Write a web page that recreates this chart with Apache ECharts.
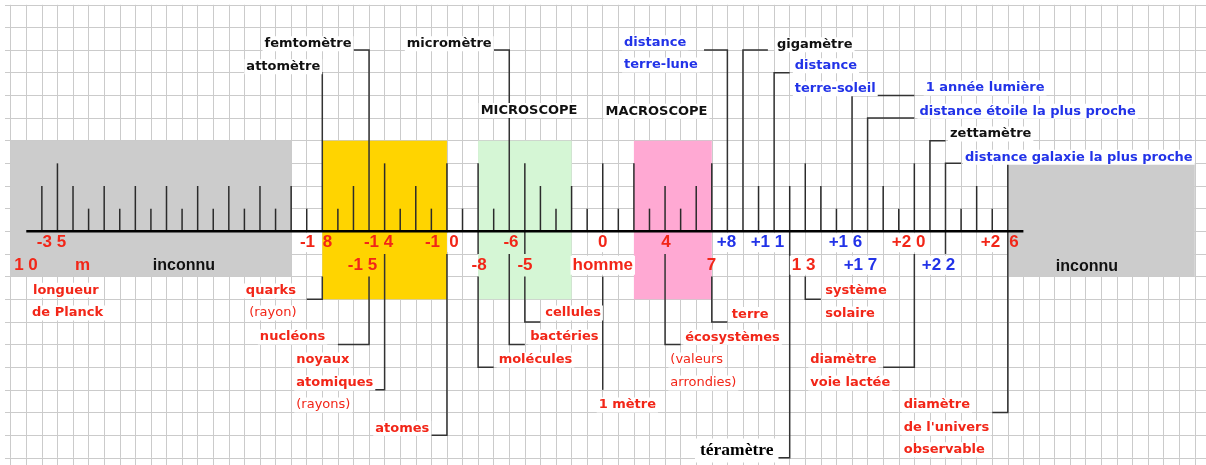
<!DOCTYPE html>
<html><head><meta charset="utf-8">
<script src="https://cdn.jsdelivr.net/npm/echarts@6/dist/echarts.min.js"></script>
<style>html,body{margin:0;padding:0;background:#fff}#c{width:1206px;height:465px}</style>
</head><body><div id="c"></div>
<script>
// ---------- DATA (x = power of ten in metres, y = rows above/below the axis) ----------
const tickExps   = [-36,-35,-34,-33,-32,-31,-30,-29,-28,-27,-26,-25,-24,-23,-22,-21,-20,-19,
                    -17,-16,-14,-13,-12,-11,-10,-9,-8,-7,-5,-4,-3,-2,-1,0,1,2,3,4,5,6,7,
                    10,12,13,14,15,18,19,20,23,24,25,26];
const tickLevels = [2,3,2,1,2,1,2,1,2,1,2,1,2,1,2,1,2,1,
                    1,2,3,1,2,1,3,1,3,1,3,2,1,2,1,3,1,3,1,2,1,2,3,
                    2,2,3,2,1,2,1,3,1,2,1,3];

const axisExtent = [[-37,0],[27,0]];

// zones: [from, to, bottom, top, kind]
const zones = [
  [-38,-20,-2,4,'unknown'],
  [26,38,-2,3,'unknown'],
  [-18,-10,-3,4,'nano'],
  [-8,-2,-3,4,'micro'],
  [2,7,-3,4,'macro']
];

// leader lines
const leaderPaths = [
  [[-18,0],[-18,7],[-19,7]],
  [[-15,0],[-15,8],[-16,8]],
  [[-6,0],[-6,8],[-7,8]],
  [[8,0],[8,8],[6.5,8]],
  [[9,0],[9,8],[10.6,8]],
  [[11,0],[11,7],[12,7]],
  [[16,0],[16,6],[20,6]],
  [[17,0],[17,5],[20,5]],
  [[21,0],[21,4],[22,4]],
  [[22,0],[22,3],[23,3]],
  [[-18,-2],[-18,-3],[-19,-3]],
  [[-15,-2],[-15,-5],[-17,-5]],
  [[-14,-1],[-14,-7],[-15,-7]],
  [[-10,-1],[-10,-9],[-11,-9]],
  [[-8,0],[-8,-1]],
  [[-8,-2],[-8,-6],[-7,-6]],
  [[-6,-1],[-6,-5],[-5,-5]],
  [[-5,0],[-5,-1]],
  [[-5,-2],[-5,-4],[-4,-4]],
  [[0,-2],[0,-7]],
  [[4,-1],[4,-5],[5,-5]],
  [[7,-2],[7,-4],[8,-4]],
  [[12,0],[12,-10],[11.25,-10]],
  [[13,-2],[13,-3],[14,-3]],
  [[20,-1],[20,-6],[18,-6]],
  [[22,0],[22,-1]],
  [[26,0],[26,-8],[25,-8]]
];

// texts: [text, x, y, anchor, kind]
const topTexts = [
  ['femtomètre',-16,8.28,'right','black'],
  ['attomètre',-18,7.27,'right','black'],
  ['micromètre',-7,8.28,'right','black'],
  ['MICROSCOPE',-4.73,5.33,'center','black'],
  ['MACROSCOPE',3.45,5.3,'center','black'],
  ['distance',1.24,8.33,'left','blue'],
  ['terre-lune',1.24,7.34,'left','blue'],
  ['gigamètre',11.05,8.24,'left','black'],
  ['distance',12.2,7.31,'left','blue'],
  ['terre-soleil',12.2,6.29,'left','blue'],
  ['1 année lumière',20.6,6.33,'left','blue'],
  ['distance étoile la plus proche',20.2,5.3,'left','blue'],
  ['zettamètre',22.16,4.3,'left','black'],
  ['distance galaxie la plus proche',23.12,3.27,'left','blue']
];
const scaleTexts = [
  ['-3 5',-35.38,-0.5,'center','numRedBox'],
  ['-1',-18.95,-0.5,'center','numRed'],
  ['8',-17.67,-0.5,'center','numRedBox'],
  ['-1 4',-14.39,-0.5,'center','numRedBox'],
  ['-1',-10.93,-0.5,'center','numRedBox'],
  ['0',-9.55,-0.5,'center','numRed'],
  ['-6',-5.89,-0.5,'center','numRedBox'],
  ['0',0,-0.5,'center','numRed'],
  ['4',4.06,-0.5,'center','numRedBox'],
  ['+8',7.94,-0.5,'center','numBlue'],
  ['+1 1',10.57,-0.5,'center','numBlue'],
  ['+1 6',15.58,-0.5,'center','numBlue'],
  ['+2 0',19.63,-0.5,'center','numRed'],
  ['+2',24.89,-0.5,'center','numRed'],
  ['6',26.4,-0.5,'center','numRedBox'],
  ['1 0',-37.02,-1.5,'center','numRedBox'],
  ['m',-33.39,-1.5,'center','numRedBox'],
  ['inconnu',-26.88,-1.5,'center','unknown'],
  ['-1 5',-15.42,-1.5,'center','numRedBox'],
  ['-8',-7.94,-1.5,'center','numRedBox'],
  ['-5',-4.99,-1.5,'center','numRedBox'],
  ['homme',0,-1.5,'center','numRed'],
  ['7',6.98,-1.5,'center','numRedBox'],
  ['1 3',12.89,-1.5,'center','numRed'],
  ['+1 7',16.54,-1.5,'center','numBlue'],
  ['+2 2',21.55,-1.5,'center','numBlue'],
  ['inconnu',31.08,-1.57,'center','unknown']
];
const bottomTexts = [
  ['longueur',-36.7,-2.6,'left','red'],
  ['de Planck',-36.76,-3.61,'left','red'],
  ['quarks',-19.56,-2.64,'right','red'],
  ['(rayon)',-22.82,-3.61,'left','redThin'],
  ['nucléons',-17.68,-4.67,'right','red'],
  ['noyaux',-19.8,-5.68,'left','red'],
  ['atomiques',-19.8,-6.7,'left','red'],
  ['(rayons)',-19.8,-7.67,'left','redThin'],
  ['atomes',-14.73,-8.69,'left','red'],
  ['cellules',-3.82,-3.61,'left','red'],
  ['bactéries',-4.78,-4.67,'left','red'],
  ['molécules',-6.81,-5.68,'left','red'],
  ['1 mètre',-0.39,-7.67,'left','red'],
  ['terre',8.16,-3.67,'left','red'],
  ['écosystèmes',5.17,-4.68,'left','red'],
  ['(valeurs',4.21,-5.68,'left','redThin'],
  ['arrondies)',4.21,-6.7,'left','redThin'],
  ['système',14.16,-2.64,'left','red'],
  ['solaire',14.16,-3.65,'left','red'],
  ['diamètre',13.19,-5.68,'left','red'],
  ['voie lactée',13.19,-6.7,'left','red'],
  ['diamètre',19.19,-7.67,'left','red'],
  ["de l'univers",19.19,-8.68,'left','red'],
  ['observable',19.19,-9.65,'left','red'],
  ['téramètre',5.92,-9.68,'left','serif']
];

// ---------- STYLES ----------
const RED = '#f22618', BLUE = '#2233e8';
const zoneColors = {unknown:'#cccccc', nano:'#ffd400', micro:'#d5f6d5', macro:'#ffa9d3'};
const textStyles = {
  black:    {fill:'#111', fontFamily:'DejaVu Sans', fontWeight:'bold', fontSize:13, bg:'#fff', pad:[1,2]},
  blue:     {fill:BLUE, fontFamily:'DejaVu Sans', fontWeight:'bold', fontSize:13, bg:'#fff', pad:[1,2]},
  red:      {fill:RED, fontFamily:'DejaVu Sans', fontWeight:'bold', fontSize:13, bg:'#fff', pad:[1,2]},
  redThin:  {fill:RED, fontFamily:'DejaVu Sans', fontWeight:'normal', fontSize:13, bg:'#fff', pad:[1,2]},
  numRed:   {fill:RED, fontFamily:'Liberation Sans', fontWeight:'bold', fontSize:17, bg:'#fff', pad:[1,2]},
  numRedBox:{fill:RED, fontFamily:'Liberation Sans', fontWeight:'bold', fontSize:17, bg:null, pad:0},
  numBlue:  {fill:BLUE, fontFamily:'Liberation Sans', fontWeight:'bold', fontSize:17, bg:'#fff', pad:[1,2]},
  unknown:  {fill:'#111', fontFamily:'Liberation Sans', fontWeight:'bold', fontSize:16, bg:null, pad:0},
  serif:    {fill:'#000', fontFamily:'Liberation Serif', fontWeight:'bold', fontSize:17.5, bg:'#fff', pad:[3,5]}
};
const allTexts = topTexts.concat(scaleTexts, bottomTexts);

// ---------- LAYOUT (paper grid) ----------
const GRID_COLOR = '#cbcbcb';
const PLOT = {left:10.7, right:11.22, top:4.8, bottom:7.2};
const hidden = (min, max) => ({type:'value', min:min, max:max, show:true,
  axisLine:{show:false}, axisTick:{show:false}, axisLabel:{show:false}, splitLine:{show:false}});
const gridAxis = (min, max, gi) => ({
  type:'value', min:min, max:max, interval:1, gridIndex:gi,
  axisLine:{show:false}, axisTick:{show:false}, axisLabel:{show:false},
  splitLine:{show:true, lineStyle:{color:GRID_COLOR, width:1}}
});
const hid = (gi) => Object.assign(hidden(0, 1), {gridIndex:gi});

const chart = echarts.init(document.getElementById('c'), null, {renderer:'canvas'});
chart.setOption({
  animation:false,
  backgroundColor:'#fff',
  grid:[
    Object.assign({containLabel:false}, PLOT),
    {left:1206-PLOT.right, right:0, top:PLOT.top, bottom:PLOT.bottom},
    {left:5, width:PLOT.left-5, top:PLOT.top, bottom:PLOT.bottom},
    {left:PLOT.left, right:PLOT.right, top:465-PLOT.bottom, bottom:0}
  ],
  xAxis:[gridAxis(-38, 38, 0), hid(1), hid(2), gridAxis(-38, 38, 3)],
  yAxis:[gridAxis(-10, 10, 0), gridAxis(-10, 10, 1), gridAxis(-10, 10, 2), hid(3)],
  series:[
    {type:'custom', z:1, silent:true, data: zones.map(b => [b[0], b[2]]),
     renderItem:(params, api) => {
       const b = zones[params.dataIndex];
       const p0 = api.coord([b[0], b[3]]), p1 = api.coord([b[1], b[2]]);
       return {type:'rect', shape:{x:p0[0], y:p0[1], width:p1[0]-p0[0], height:p1[1]-p0[1]},
               style:{fill:zoneColors[b[4]]}};
     }},
    {type:'custom', z:3, silent:true, data: tickExps.map((e,i) => [e, tickLevels[i]]),
     renderItem:(params, api) => {
       const p0 = api.coord([api.value(0), 0]), p1 = api.coord([api.value(0), api.value(1)]);
       return {type:'line', shape:{x1:p0[0], y1:p0[1], x2:p1[0], y2:p1[1]},
               style:{stroke:'#2b2b2b', lineWidth:1.5}};
     }},
    {type:'custom', z:3, silent:true, data: leaderPaths.map(p => p[0]),
     renderItem:(params, api) => {
       const pts = leaderPaths[params.dataIndex].map(p => api.coord(p));
       return {type:'polyline', shape:{points:pts},
               style:{stroke:'#333', lineWidth:1.5, fill:null}};
     }},
    {type:'line', z:4, silent:true, data: axisExtent, symbol:'none',
     lineStyle:{color:'#000', width:2.5}},
    {type:'custom', z:6, silent:true, data: allTexts.map(t => [t[1], t[2]]),
     renderItem:(params, api) => {
       const t = allTexts[params.dataIndex];
       const s = textStyles[t[4]];
       const p = api.coord([t[1], t[2]]);
       const style = {text:t[0], align:t[3], verticalAlign:'middle', fill:s.fill,
                      fontFamily:s.fontFamily, fontWeight:s.fontWeight, fontSize:s.fontSize};
       if (s.bg) { style.backgroundColor = s.bg; style.padding = s.pad; }
       return {type:'text', x:p[0], y:p[1], style:style};
     }}
  ]
});
</script></body></html>
